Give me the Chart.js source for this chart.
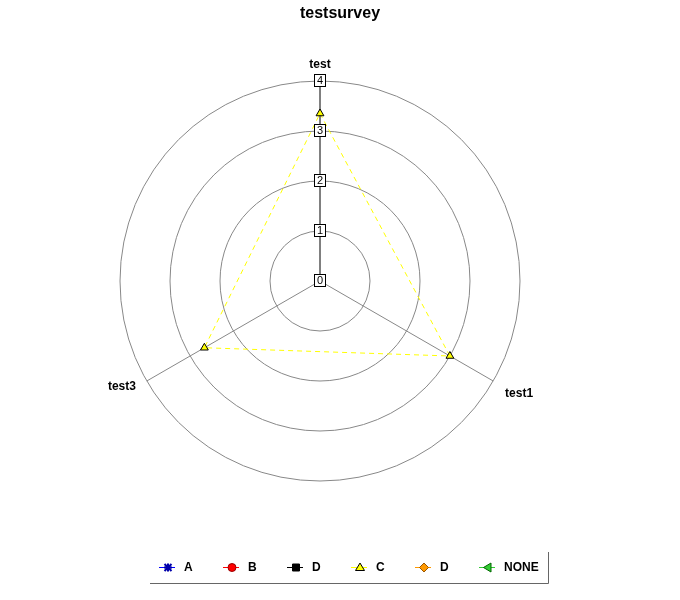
<!DOCTYPE html>
<html>
<head>
<meta charset="utf-8">
<title>testsurvey</title>
<script src="https://cdn.jsdelivr.net/npm/chart.js@4/dist/chart.umd.min.js"></script>
<style>
  html, body { margin: 0; padding: 0; background: #ffffff; }
  canvas { display: block; }
</style>
</head>
<body>
<canvas id="survey" width="680" height="600"></canvas>
<script>
// Survey axes and answers
const axisLabels = ['test', 'test1', 'test3'];
const tickValues = [0, 1, 2, 3, 4];
const seriesNames = ['A', 'B', 'D', 'C', 'D', 'NONE'];
const seriesA = [null, null, null];
const seriesB = [null, null, null];
const seriesD = [null, null, null];
const seriesC = [3.35, 3.0, 2.67];
const seriesD2 = [null, null, null];
const seriesNone = [null, null, null];

const FONT = '"Liberation Sans", Arial, Helvetica, sans-serif';

// Per-series look: line colour, marker kind, marker fill/stroke
const looks = [
  { line: '#0000ff', marker: 'star',     fill: '#0000aa', stroke: '#0000aa' },
  { line: '#ff0000', marker: 'circle',   fill: '#ff0000', stroke: '#990000' },
  { line: '#000000', marker: 'rect',     fill: '#000000', stroke: '#000000' },
  { line: '#ffff00', marker: 'triangle', fill: '#ffff00', stroke: '#000000' },
  { line: '#ff9900', marker: 'diamond',  fill: '#ff9900', stroke: '#995500' },
  { line: '#33cc33', marker: 'left',     fill: '#33cc33', stroke: '#006600' }
];
const seriesValues = [seriesA, seriesB, seriesD, seriesC, seriesD2, seriesNone];
const chartPointStyle = { star: 'star', circle: 'circle', rect: 'rect', triangle: 'triangle', diamond: 'rectRot', left: 'triangle' };

const datasets = seriesNames.map((name, i) => ({
  label: name,
  data: seriesValues[i],
  borderColor: looks[i].line,
  backgroundColor: looks[i].fill,
  borderWidth: 1,
  borderDash: [5, 4],
  fill: false,
  tension: 0,
  pointStyle: chartPointStyle[looks[i].marker],
  pointRadius: 4.5,
  pointBorderWidth: 1,
  pointBackgroundColor: looks[i].fill,
  pointBorderColor: looks[i].stroke
}));

function drawMarker(ctx, kind, x, y, look) {
  ctx.save();
  ctx.setLineDash([]);
  ctx.lineWidth = 1;
  ctx.fillStyle = look.fill;
  ctx.strokeStyle = look.stroke;
  ctx.beginPath();
  switch (kind) {
    case 'star':
      ctx.lineWidth = 2;
      ctx.moveTo(x - 3.5, y - 3.5); ctx.lineTo(x + 3.5, y + 3.5);
      ctx.moveTo(x + 3.5, y - 3.5); ctx.lineTo(x - 3.5, y + 3.5);
      ctx.moveTo(x, y - 4); ctx.lineTo(x, y + 4);
      ctx.moveTo(x - 4, y); ctx.lineTo(x + 4, y);
      ctx.stroke();
      break;
    case 'circle':
      ctx.arc(x, y, 4, 0, Math.PI * 2);
      ctx.fill(); ctx.stroke();
      break;
    case 'rect':
      ctx.rect(x - 3.5, y - 3.5, 7, 7);
      ctx.fill(); ctx.stroke();
      break;
    case 'triangle':
      ctx.moveTo(x, y - 4.5); ctx.lineTo(x + 4.5, y + 3); ctx.lineTo(x - 4.5, y + 3); ctx.closePath();
      ctx.fill(); ctx.stroke();
      break;
    case 'diamond':
      ctx.moveTo(x, y - 4.5); ctx.lineTo(x + 4.5, y); ctx.lineTo(x, y + 4.5); ctx.lineTo(x - 4.5, y); ctx.closePath();
      ctx.fill(); ctx.stroke();
      break;
    case 'left':
      ctx.moveTo(x - 4.5, y); ctx.lineTo(x + 3, y - 4.5); ctx.lineTo(x + 3, y + 4.5); ctx.closePath();
      ctx.fill(); ctx.stroke();
      break;
  }
  ctx.restore();
}

// Title, axis names, boxed tick values and the legend strip
const surveyDecor = {
  id: 'surveyDecor',
  afterDraw(chart) {
    const ctx = chart.ctx;
    const scale = chart.scales.r;
    ctx.save();
    ctx.setLineDash([]);

    // title
    ctx.fillStyle = '#000';
    ctx.font = 'bold 16px ' + FONT;
    ctx.textAlign = 'center';
    ctx.textBaseline = 'middle';
    ctx.fillText('testsurvey', 340, 14);

    // axis names just outside the outer ring
    ctx.font = 'bold 12px ' + FONT;
    axisLabels.forEach((label, i) => {
      const p = scale.getPointPosition(i, scale.drawingArea + 16);
      const dx = p.x - scale.xCenter;
      if (Math.abs(dx) < 1) {
        ctx.textAlign = 'center';
        ctx.fillText(label, p.x, p.y);
      } else if (dx > 0) {
        ctx.textAlign = 'left';
        ctx.fillText(label, p.x - 2, p.y + 5);
      } else {
        ctx.textAlign = 'right';
        ctx.fillText(label, p.x + 3, p.y - 2);
      }
    });

    // boxed tick values along the first axis
    ctx.font = '11px ' + FONT;
    ctx.textAlign = 'center';
    tickValues.forEach((v) => {
      const p = scale.getPointPositionForValue(0, v);
      const x = Math.round(p.x), y = Math.round(p.y);
      ctx.fillStyle = '#fff';
      ctx.fillRect(x - 5.5, y - 6.5, 11, 12);
      ctx.strokeStyle = '#000';
      ctx.lineWidth = 1;
      ctx.strokeRect(x - 5.5, y - 6.5, 11, 12);
      ctx.fillStyle = '#000';
      ctx.fillText(String(v), x, y);
    });

    // legend
    const legendY = 567.5;
    ctx.font = 'bold 12px ' + FONT;
    ctx.textAlign = 'left';
    chart.data.datasets.forEach((ds, i) => {
      const mx = 168 + i * 64;
      ctx.strokeStyle = looks[i].line;
      ctx.lineWidth = 1;
      ctx.beginPath();
      ctx.moveTo(mx - 9, legendY);
      ctx.lineTo(mx + 7, legendY);
      ctx.stroke();
      drawMarker(ctx, looks[i].marker, mx, legendY, looks[i]);
      ctx.fillStyle = '#000';
      ctx.fillText(ds.label, mx + 16, legendY + 0.5);
    });
    ctx.strokeStyle = '#666';
    ctx.lineWidth = 1;
    ctx.beginPath();
    ctx.moveTo(150, 583.5);
    ctx.lineTo(548.5, 583.5);
    ctx.lineTo(548.5, 552);
    ctx.stroke();

    ctx.restore();
  }
};

new Chart(document.getElementById('survey'), {
  type: 'radar',
  data: { labels: axisLabels, datasets },
  plugins: [surveyDecor],
  options: {
    responsive: false,
    animation: false,
    layout: { padding: { left: 120, right: 160, top: 81, bottom: 119 } },
    plugins: {
      legend: { display: false },
      title: { display: false },
      tooltip: { enabled: false }
    },
    scales: {
      r: {
        min: 0,
        max: 4,
        ticks: { stepSize: 1, display: false },
        pointLabels: { display: false },
        grid: { circular: true, color: '#888888', lineWidth: 1 },
        angleLines: {
          display: true,
          lineWidth: 1,
          color: (c) => (c.index === 0 ? '#000000' : '#888888')
        }
      }
    }
  }
});
</script>
</body>
</html>
